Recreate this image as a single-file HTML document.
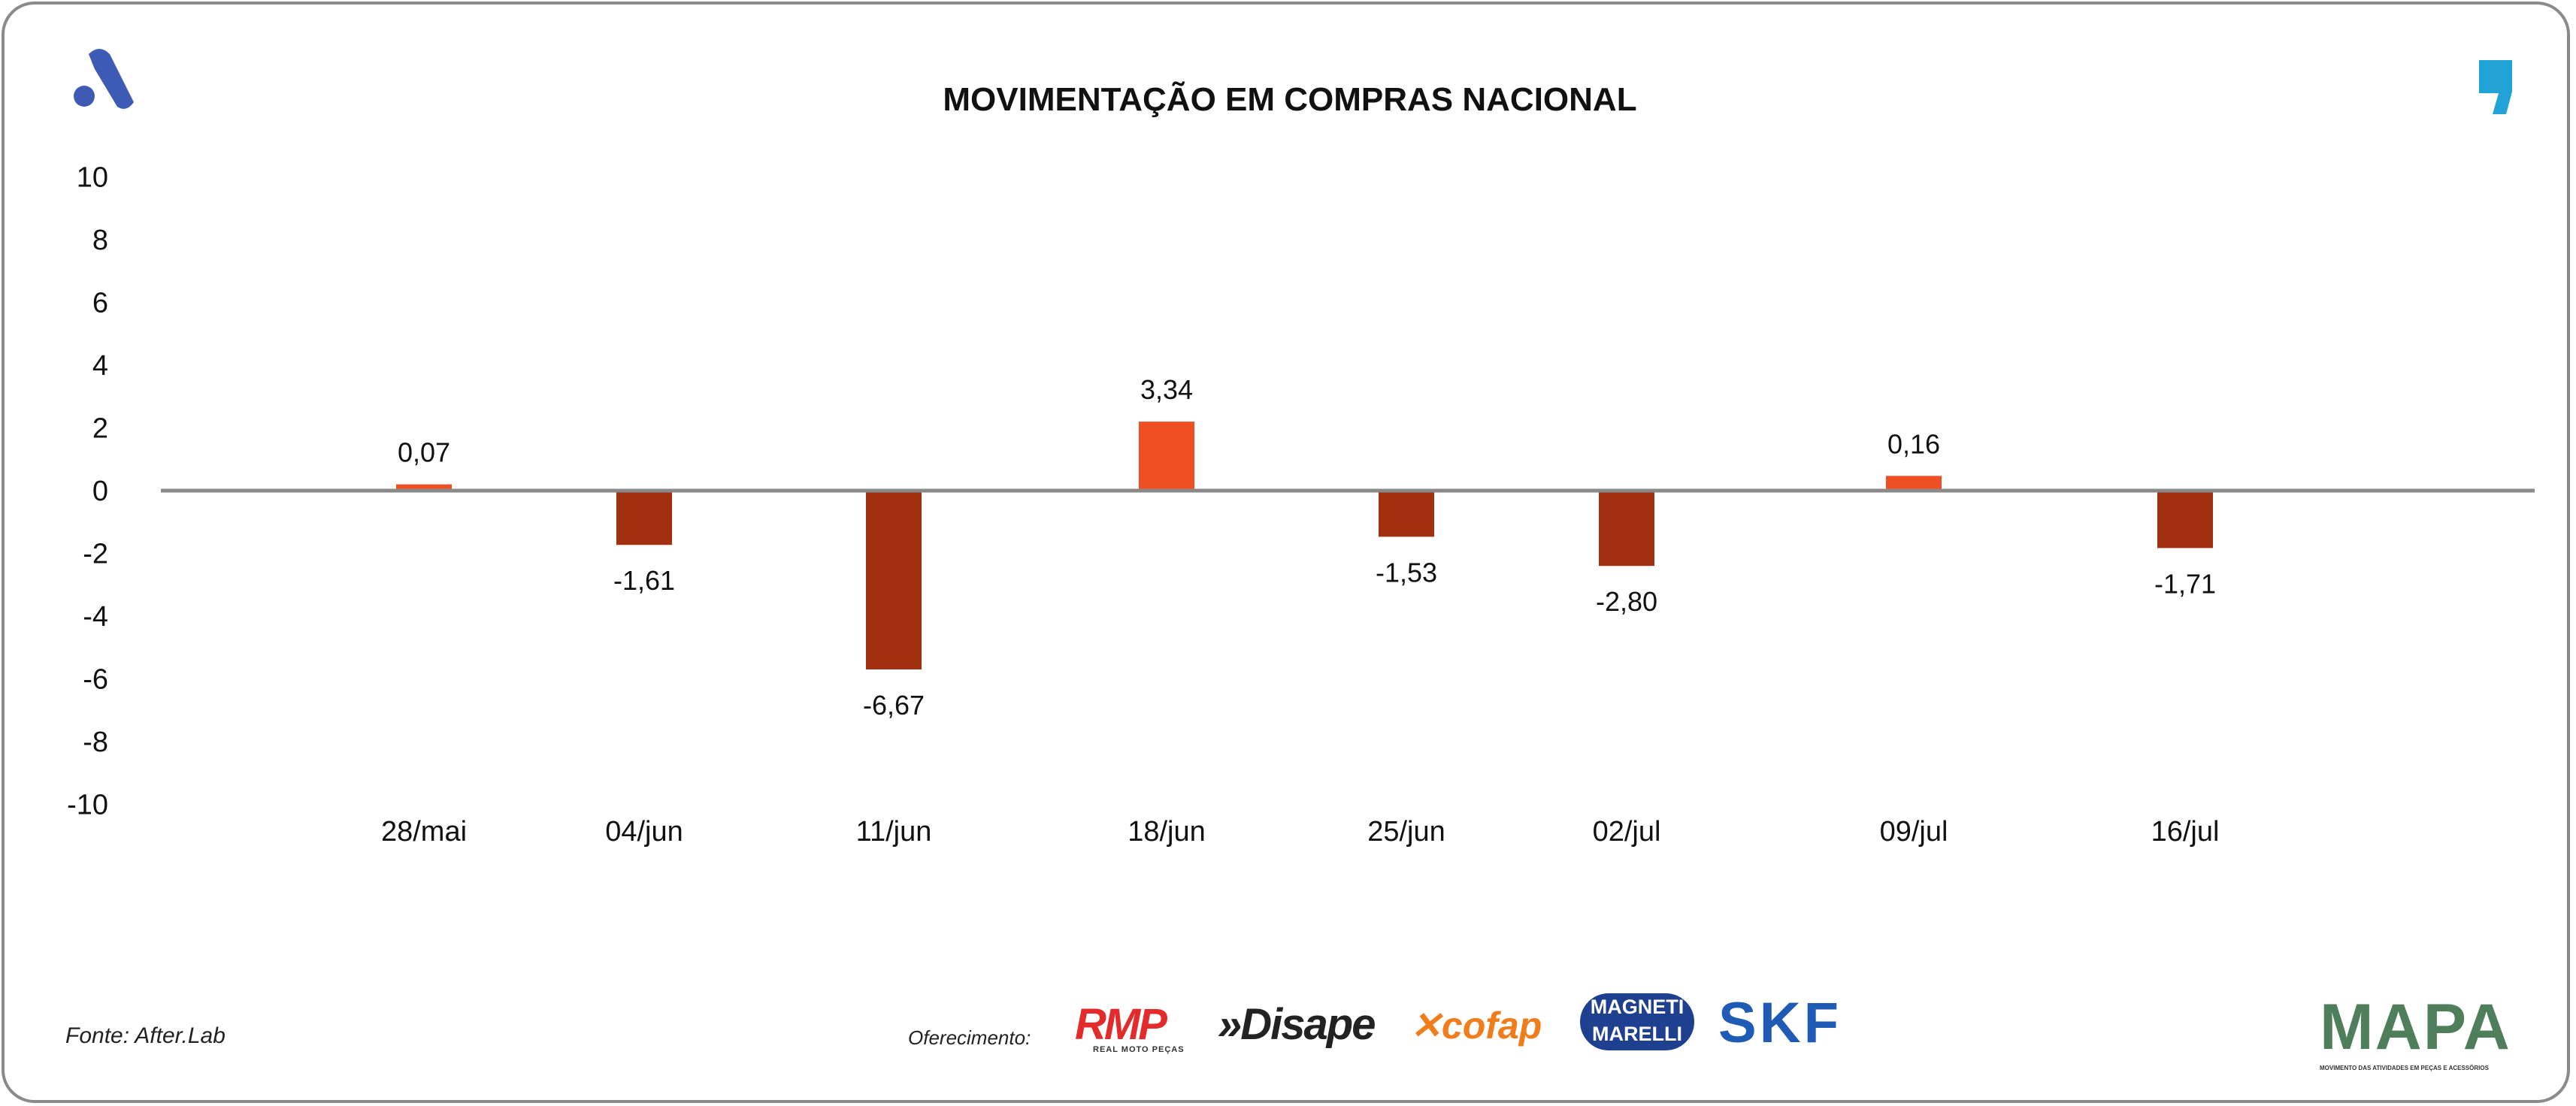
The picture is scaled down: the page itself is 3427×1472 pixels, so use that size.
<!DOCTYPE html>
<html><head><meta charset="utf-8"><style>
html,body{margin:0;padding:0;background:#fff;}
body{width:3427px;height:1472px;position:relative;overflow:hidden;font-family:"Liberation Sans",sans-serif;}
#frame{position:absolute;left:2px;top:2px;width:3417px;height:1466px;border:4px solid #8a8a8a;border-radius:44px;box-sizing:border-box;}
.t{position:absolute;white-space:nowrap;}
</style></head><body>
<div id="frame"></div>
<svg style="position:absolute;left:92px;top:58px" width="92" height="92" viewBox="0 0 92 92">
<circle cx="20" cy="70" r="14" fill="#3d5bb5"/><path d="M26 14 Q40 0 54 14 L86 78 Q76 92 64 84 L34 34 Z" fill="#3d5bb5"/></svg>
<svg style="position:absolute;left:3296px;top:78px" width="50" height="76" viewBox="0 0 50 76">
<path d="M2 2 H46 V44 L38 74 H20 L28 46 H2 Z" fill="#22a3d8"/></svg>
<div class="t" style="left:0;width:3432px;text-align:center;top:108px;font-size:44px;font-weight:bold;color:#111;">MOVIMENTAÇÃO EM COMPRAS NACIONAL</div>
<svg id="chart" style="position:absolute;left:0;top:0" width="3427" height="1472"></svg>
<div class="t" style="left:87px;top:1362px;font-size:30px;font-style:italic;color:#222;">Fonte: After.Lab</div>
<div class="t" style="left:1208px;top:1366px;font-size:26px;font-style:italic;color:#222;">Oferecimento:</div>
<div class="t" style="left:1430px;top:1330px;font-size:58px;font-weight:bold;font-style:italic;color:#e32b2b;letter-spacing:-3px;">RMP<div style="font-size:11px;color:#333;font-style:normal;letter-spacing:1px;margin-left:24px;margin-top:-6px">REAL MOTO PEÇAS</div></div>
<div class="t" style="left:1620px;top:1330px;font-size:58px;font-weight:bold;font-style:italic;color:#222;letter-spacing:-2px;">»Disape</div>
<div class="t" style="left:1876px;top:1336px;font-size:50px;font-weight:bold;font-style:italic;color:#f07c1a;">✕cofap</div>
<div class="t" style="left:2102px;top:1322px;width:152px;height:76px;border-radius:38px;background:#1f3f8f;color:#fff;font-size:27px;font-weight:bold;text-align:center;line-height:36px;">MAGNETI<br>MARELLI</div>
<div class="t" style="left:2286px;top:1318px;font-size:76px;font-weight:bold;color:#1f5bb5;letter-spacing:4px;">SKF</div>
<div class="t" style="left:3086px;top:1318px;font-size:86px;font-weight:bold;color:#4f7f5a;letter-spacing:2px;">MAPA<div style="font-size:8px;color:#333;letter-spacing:0">MOVIMENTO DAS ATIVIDADES EM PEÇAS E ACESSÓRIOS</div></div>
<script>
const categories=["28/mai","04/jun","11/jun","18/jun","25/jun","02/jul","09/jul","16/jul"];
const barValues=[0.2,-1.73,-5.7,2.2,-1.47,-2.4,0.47,-1.83];
const labelValues=["0,07","-1,61","-6,67","3,34","-1,53","-2,80","0,16","-1,71"];
const yTicks=[10,8,6,4,2,0,-2,-4,-6,-8,-10];
const xCenters=[564,857,1189,1552,1871,2164,2546,2907];
const NS="http://www.w3.org/2000/svg";
const svg=document.getElementById('chart');
const y0=653,unit=41.75;
function y(v){return y0-v*unit;}
function mk(tag,attrs,txt){const e=document.createElementNS(NS,tag);for(const k in attrs)e.setAttribute(k,attrs[k]);if(txt!==undefined)e.textContent=txt;svg.appendChild(e);return e;}
yTicks.forEach(v=>{const e=mk('text',{x:144,y:y(v)+13,'text-anchor':'end','font-size':38,fill:'#111','font-family':'Liberation Sans'},String(v));

});
categories.forEach((c,i)=>{const v=barValues[i],cx=xCenters[i];
const top=Math.min(y(v),y(0)),h=Math.abs(y(v)-y(0));
const r=mk('rect',{x:cx-37,y:top,width:74,height:h,fill:v>=0?'#f04e23':'#a03010'});


const ly=v>=0?y(v)-30:y(v)+60;
const l=mk('text',{x:cx,y:ly,'text-anchor':'middle','font-size':36,fill:'#111','font-family':'Liberation Sans'},labelValues[i]);


const xl=mk('text',{x:cx,y:1119,'text-anchor':'middle','font-size':38,fill:'#111','font-family':'Liberation Sans'},c);

});
const ax=mk('line',{x1:214,x2:3372,y1:y(0),y2:y(0),stroke:'#8a8a8a','stroke-width':5});


</script>
</body></html>
